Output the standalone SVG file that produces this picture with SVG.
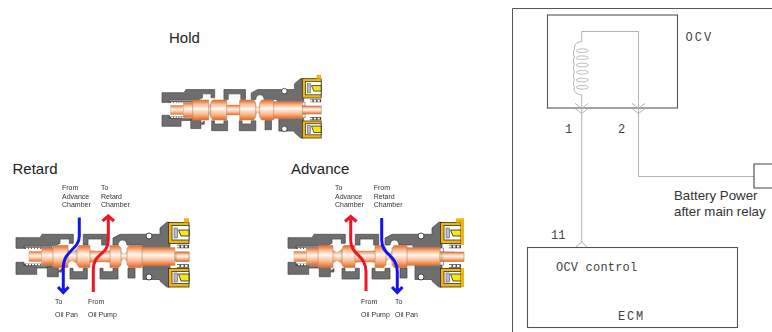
<svg xmlns="http://www.w3.org/2000/svg" xmlns:xlink="http://www.w3.org/1999/xlink" width="772" height="332" viewBox="0 0 772 332">
<style>
text{font-family:"Liberation Sans",Arial,sans-serif}
.title{font-size:15px;fill:#222}
.sm{font-size:7px;fill:#333;filter:url(#softer)}
.mono{font-family:"Liberation Mono","Courier New",monospace;font-size:12px;fill:#444}
.sans{font-size:13.300px;fill:#333}
.h{fill:#6e6e6e;stroke:#444;stroke-width:.7}
.land{fill:url(#sg);stroke:#b08468;stroke-width:.6}
.neck{fill:url(#sg);stroke:#c89878;stroke-width:.4}
.gold{fill:#efb60f;stroke:#3a2f10;stroke-width:.8}
.box{fill:#fff;stroke:#555;stroke-width:1.100}
.wire{fill:none;stroke:#b4b4b4;stroke-width:1}
.blue{fill:none;stroke:#1414f0;stroke-width:3}
.red{fill:none;stroke:#f01428;stroke-width:3}
</style>
<defs>
<filter id="soft" x="-5%" y="-5%" width="110%" height="110%"><feGaussianBlur stdDeviation=".35"/></filter>
<filter id="softer" x="-5%" y="-20%" width="110%" height="140%"><feGaussianBlur stdDeviation=".2"/></filter>
<linearGradient id="sg" x1="0" y1="0" x2="0" y2="1">
<stop offset="0" stop-color="#e9661e"/><stop offset=".2" stop-color="#f9b78c"/><stop offset=".42" stop-color="#fff8f2"/><stop offset=".72" stop-color="#fbb98e"/><stop offset="1" stop-color="#e9661e"/>
</linearGradient>
<g id="body">
<path class="h" d="M16 237.700H40L42 234.300H73.300V243.300H69.300V239H60V243.300L55 245.700H24V248.300H16Z"/>
<path class="h" d="M16 262.300H24V265.500H36.700V266.700H53V268H36.700V274.300H16Z"/>
<path class="h" d="M24 246.800H52V248.500H24ZM24 264H52V265.600H24Z"/>
<path d="M26 248.500H51M26 264.500H51" stroke="#fff" stroke-width="1.300" stroke-dasharray="2 1"/>
<path class="h" d="M47.300 266.700H58.300V271L62 268.500V272H58.300V276.700H47.300Z"/>
<path class="h" d="M70 268.300H73V271.700H83.300V268.300H87.300V279H70Z"/>
<path class="h" d="M83.300 234.300H106.700V245H101.700V239H88V245H83.300Z"/>
<path class="h" d="M100 268.300H103V271.700H113V268.300H118V279H100Z"/>
<path class="h" d="M113 245V238L120 234.300H160V228L166.700 222.300H170V247.500H141V245H127C127 242 125 240 122.500 240C120 240 118 242 118 245Z"/>
<circle cx="149" cy="236" r="3" fill="#fff" stroke="#333" stroke-width=".9"/>
<path class="h" d="M128 268H135V278H128Z"/>
<path class="h" d="M143 265.500H170V287H166.700L160 281V279.500H143Z"/>
<circle cx="149" cy="277" r="3" fill="#fff" stroke="#333" stroke-width=".9"/>
<rect x="168" y="248" width="3.500" height="4" fill="#fff" stroke="#333" stroke-width=".5"/>
<rect x="168" y="261" width="3.500" height="4" fill="#fff" stroke="#333" stroke-width=".5"/>
<rect class="gold" x="168.500" y="222.500" width="20.500" height="21"/>
<rect x="172" y="225.500" width="17" height="14.500" fill="#fff" stroke="#333" stroke-width=".8"/>
<rect x="174" y="228" width="3.500" height="10" fill="#bbb" stroke="#444" stroke-width=".5"/>
<path d="M178.500 230H189V236H181Z" fill="#f7e619" stroke="#222" stroke-width=".8"/>
<rect class="gold" x="168.500" y="268.500" width="20.500" height="18.500"/>
<rect x="172" y="271.500" width="17" height="12" fill="#fff" stroke="#333" stroke-width=".8"/>
<rect x="174" y="273" width="3.500" height="9" fill="#bbb" stroke="#444" stroke-width=".5"/>
<path d="M178.500 274H189V281H181Z" fill="#f7e619" stroke="#222" stroke-width=".8"/>
<rect x="184" y="218.300" width="5" height="4.200" fill="#efb60f"/>
<path d="M177 246.500H189M177 266H189" stroke="#444" stroke-width="3.500"/>
<path d="M177 246.500H189M177 266H189" stroke="#fff" stroke-width="2" stroke-dasharray="2.500 1.500"/>
</g>
<g id="spool">
<rect class="neck" x="-24" y="-5" width="13" height="10"/>
<rect class="neck" x="-11.500" y="-8.500" width="12" height="17"/>
<path class="neck" d="M14 -7L19 -4L24 -7V7L19 4L14 7Z"/>
<path class="neck" d="M36 -6L42 -5.500H53L58 -6V6L53 5.500H42L36 6Z"/>
<path class="neck" d="M67 -6L71 -2L75 -6V6L71 2L67 6Z"/>
<rect class="neck" x="88" y="-9" width="34" height="18"/>
<rect class="land" x="122" y="-4.500" width="14" height="9"/>
<path class="land" d="M0 -11H15V-8L15 8V11H0Z"/>
<path class="land" d="M24 -8L26 -11H37V11H26L24 8Z"/>
<path class="land" d="M57 -11H66L68 -8V8L66 11H57Z"/>
<path class="land" d="M74 -8L76 -11H89V11H76L74 8Z"/>
</g>
</defs>

<g id="valve-hold">
<g filter="url(#soft)">
<use xlink:href="#body" transform="translate(162 109.500) scale(.92) translate(-16 -256)"/>
<g transform="translate(192.700 110)">
<rect class="neck" x="-22" y="-4.500" width="13" height="9"/>
<rect class="neck" x="-9.500" y="-7.500" width="10" height="15"/>
<path class="neck" d="M16 -6L17 -3L18 -6V6L17 3L16 6Z"/>
<path class="neck" d="M33 -5H48V5H33Z"/>
<path class="neck" d="M62 -6L65 -2L68 -6V6L65 2L62 6Z"/>
<rect class="neck" x="80" y="-8.500" width="30" height="17"/>
<rect class="land" x="109.500" y="-4" width="19" height="8"/>
<path class="land" d="M0 -10H16V-7V7V10H0Z"/>
<path class="land" d="M18 -7L20 -10H34V10H20L18 7Z"/>
<path class="land" d="M47 -10H61L63 -7V7L61 10H47Z"/>
<path class="land" d="M67 -7L69 -10H81V10H69L67 7Z"/>
</g>
</g>
</g>
<text class="title" x="169" y="43">Hold</text>

<g id="valve-retard">
<g filter="url(#soft)">
<use xlink:href="#body"/>
<use xlink:href="#spool" transform="translate(53 256.500)"/>
<rect class="land" x="176" y="252" width="13" height="9.500"/>
</g>
<path class="blue" d="M79.300 217.500V236C79.300 250 63.300 250 63.300 268V290M58 287L63.300 292.500L68.600 287"/>
<path class="red" d="M93.300 292V270C93.300 252 108.300 256 108.300 240V218M102.500 221L108.300 216L114 221"/>
</g>
<text class="title" x="12.500" y="174">Retard</text>
<text class="sm" x="62" y="190">From</text><text class="sm" x="62" y="198.500">Advance</text><text class="sm" x="62" y="207">Chamber</text>
<text class="sm" x="101" y="190">To</text><text class="sm" x="101" y="198.500">Retard</text><text class="sm" x="101" y="207">Chamber</text>
<text class="sm" x="55" y="304">To</text><text class="sm" x="55" y="316.500">Oil Pan</text>
<text class="sm" x="88" y="304">From</text><text class="sm" x="88" y="316.500">Oil Pump</text>

<g id="valve-advance">
<g filter="url(#soft)">
<use xlink:href="#body" transform="translate(272 0)"/>
<rect x="461" y="218.300" width="3" height="68.700" fill="#efb60f"/>
<rect x="461" y="245" width="3" height="23" fill="#fff"/>
<use xlink:href="#spool" transform="translate(318 256.500)"/>
<rect class="land" x="442" y="252" width="22" height="9.500"/>
</g>
<path class="red" d="M366 291V272C366 254 350.700 256 350.700 240V219M345 221.500L350.700 216.500L356.500 221.500"/>
<path class="blue" d="M381.700 218V240C381.700 256 397.300 254 397.300 272V290M392 287L397.300 292.500L402.500 287"/>
</g>
<text class="title" x="291" y="174">Advance</text>
<text class="sm" x="335" y="190">To</text><text class="sm" x="335" y="198.500">Advance</text><text class="sm" x="335" y="207">Chamber</text>
<text class="sm" x="373.700" y="190">From</text><text class="sm" x="373.700" y="198.500">Retard</text><text class="sm" x="373.700" y="207">Chamber</text>
<text class="sm" x="361" y="304">From</text><text class="sm" x="361" y="316.500">Oil Pump</text>
<text class="sm" x="395" y="304">To</text><text class="sm" x="395" y="316.500">Oil Pan</text>

<g id="panel"><path d="M772 8.500H512.500V332" fill="none" stroke="#555" stroke-width="1"/></g>
<g id="ocv">
<rect class="box" x="547.500" y="15" width="130" height="93"/>
<text class="mono" x="685.500" y="41" letter-spacing="2">OCV</text>
</g>
<g id="connectors">
<path class="wire" d="M638.500 176.500H754M638.500 176.500V31.500H581.700V41.500C576 42 574 45 574.500 49C573 52 573 55 574.500 57C573 60 573 62 574.500 64.500C573 67 573 69 574.500 72C573 74 573 77 574.500 79.500C573 82 573 85 574.500 87C573 90 575 94 581.700 95V243"/>
<g fill="none" stroke="#b4b4b4" stroke-width=".9">
<ellipse cx="582.300" cy="50.700" rx="6" ry="1.800"/><ellipse cx="582.300" cy="57.700" rx="6" ry="1.800"/><ellipse cx="582.300" cy="65" rx="6" ry="1.800"/><ellipse cx="582.300" cy="72.300" rx="6" ry="1.800"/><ellipse cx="582.300" cy="80" rx="6" ry="1.800"/><ellipse cx="582.300" cy="87.300" rx="6" ry="1.800"/>
</g>
<path class="wire" d="M575 103.300L581.700 108.500L588.300 103.300M575 108.500L581.700 113.500L588.300 108.500M632 103.300L638.500 108.500L645 103.300M632 108.500L638.500 113.500L645 108.500M576 247L581.700 242L587 247"/>
</g>
<text class="mono" x="565" y="133">1</text>
<text class="mono" x="618" y="133">2</text>
<g id="relay"><path d="M772 164H754V188H772" fill="#fff" stroke="#444" stroke-width="1.100"/></g>
<text class="sans" x="674" y="200">Battery Power</text>
<text class="sans" x="674" y="216">after main relay</text>
<text class="mono" x="551" y="239">11</text>
<g id="ecm">
<rect class="box" x="527.500" y="247.500" width="210" height="80"/>
<text class="mono" x="556" y="271" letter-spacing=".2">OCV control</text>
<text class="mono" x="618" y="320" letter-spacing="1.800">ECM</text>
</g>
</svg>
